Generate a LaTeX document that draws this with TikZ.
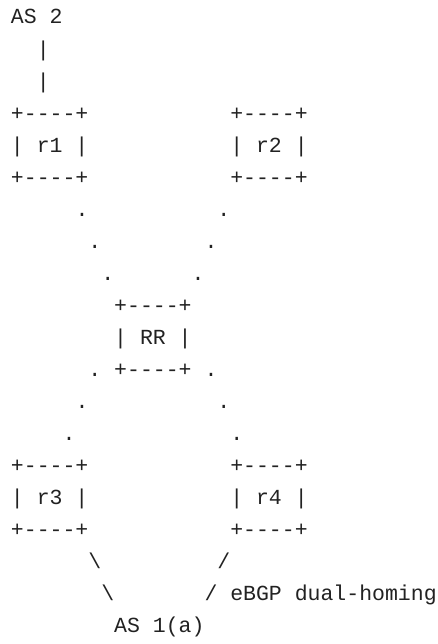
\documentclass[tikz,border=0pt]{standalone}
\usepackage{fontspec}
\setmonofont{Liberation Mono}
\definecolor{ink}{HTML}{222222}
\tikzset{
  ascii/.style={anchor=base west, inner sep=0pt, outer sep=0pt, text=ink,
    font=\ttfamily\fontsize{21.5pt}{32pt}\selectfont}
}
\begin{document}
\begin{tikzpicture}[x=12.9pt, y=-32.05pt]
\useasboundingbox (-0.8527,-0.7488) rectangle (33.1008,19.345);
% AS 2 and uplink
\node[ascii] (as2) at (0,0) {AS 2};
\node[ascii] (upa) at (2,1) {|};
\node[ascii] (upb) at (2,2) {|};
% r1 and r2
\node[ascii] (r1top) at (0,3) {+----+};
\node[ascii] (r1) at (0,4) {| r1 |};
\node[ascii] (r1bot) at (0,5) {+----+};
\node[ascii] (r2top) at (17,3) {+----+};
\node[ascii] (r2) at (17,4) {| r2 |};
\node[ascii] (r2bot) at (17,5) {+----+};
% dotted sessions to RR
\node[ascii] (da1) at (5,6) {.};
\node[ascii] (db1) at (16,6) {.};
\node[ascii] (da2) at (6,7) {.};
\node[ascii] (db2) at (15,7) {.};
\node[ascii] (da3) at (7,8) {.};
\node[ascii] (db3) at (14,8) {.};
% route reflector
\node[ascii] (rrtop) at (8,9) {+----+};
\node[ascii] (rr) at (8,10) {| RR |};
\node[ascii] (rrbot) at (8,11) {+----+};
% dotted sessions to r3 and r4
\node[ascii] (dc1) at (6,11) {.};
\node[ascii] (dd1) at (15,11) {.};
\node[ascii] (dc2) at (5,12) {.};
\node[ascii] (dd2) at (16,12) {.};
\node[ascii] (dc3) at (4,13) {.};
\node[ascii] (dd3) at (17,13) {.};
% r3 and r4
\node[ascii] (r3top) at (0,14) {+----+};
\node[ascii] (r3) at (0,15) {| r3 |};
\node[ascii] (r3bot) at (0,16) {+----+};
\node[ascii] (r4top) at (17,14) {+----+};
\node[ascii] (r4) at (17,15) {| r4 |};
\node[ascii] (r4bot) at (17,16) {+----+};
% eBGP links to AS 1
\node[ascii] (la1) at (6,17) {\textbackslash};
\node[ascii] (lb1) at (16,17) {/};
\node[ascii] (la2) at (7,18) {\textbackslash};
\node[ascii] (lb2) at (15,18) {/ eBGP dual-homing};
\node[ascii] (as1) at (8,19) {AS 1(a)};
\end{tikzpicture}
\end{document}
